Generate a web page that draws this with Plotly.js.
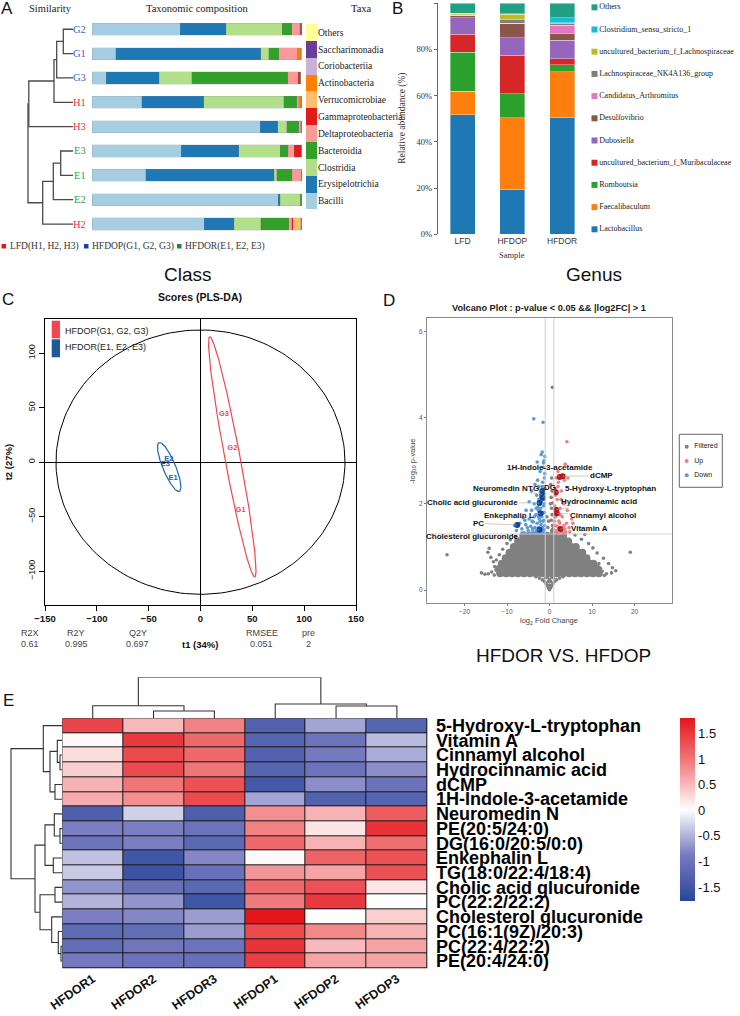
<!DOCTYPE html>
<html><head><meta charset="utf-8">
<script src="https://cdn.plot.ly/plotly-3.0.1.min.js"></script>
<style>html,body{margin:0;padding:0;background:#fff}#fig{width:740px;height:1016px}</style>
</head><body><div id="fig"></div>
<script>
// ================= DATA =================
// ---- Panel A: class-level taxonomic composition (%) ----
const samplesA = ['G2','G1','G3','H1','H3','E3','E1','E2','H2'];
const groupOfA = ['G','G','G','H','H','E','E','E','H'];
const taxaA = ['Bacilli','Erysipelotrichia','Clostridia','Bacteroidia','Deltaproteobacteria','Gammaproteobacteria','Verrucomicrobiae','Actinobacteria','Coriobacteriia','Saccharimonadia','Others'];
const pctBacilli          = [42.1, 11.3,  6.8, 23.8, 80.2, 42.5, 25.6, 88.9, 53.5];
const pctErysipelotrichia = [21.9, 69.2, 25.4, 29.4,  8.4, 27.5, 61.3,  0.9, 14.3];
const pctClostridia       = [26.8,  3.9, 15.4, 38.4,  4.4, 19.8,  1.3,  9.5, 12.7];
const pctBacteroidia      = [ 4.4,  4.8, 45.9,  6.2,  5.7,  3.8,  7.3,  0.3, 13.3];
const pctDeltaproteo      = [ 4.0,  8.9,  4.9,  0.9,  1.0,  3.0,  4.3,  0.3,  1.4];
const pctGammaproteo      = [ 0.4,  0.1,  0.8,  0.1,  0.3,  3.3,  0.1,  0.1,  0.8];
const pctVerrucomicrobiae = [ 0.1,  0.1,  0.1,  0.1,  0.0,  0.0,  0.0,  0.0,  3.7];
const pctActinobacteria   = [ 0.2,  1.4,  0.3,  1.1,  0.0,  0.1,  0.1,  0.0,  0.3];
const pctCoriobacteriia   = [ 0.05, 0.05, 0.05, 0.0,  0.0,  0.0,  0.0,  0.0,  0.0];
const pctSaccharimonadia  = [ 0.02, 0.02, 0.02, 0.0,  0.0,  0.0,  0.0,  0.0,  0.0];
const pctOthers           = [ 0.03, 0.03, 0.03, 0.0,  0.0,  0.0,  0.0,  0.0,  0.0];
// hierarchical clustering of samples (R-style merge matrix + heights)
const mergeA  = [[-1,-2],[1,-3],[2,-4],[3,-5],[-6,-7],[5,-8],[6,-9],[4,7]];
const heightA = [10, 16.6, 19.3, 44.5, 12.6, 20, 30.6, 45.3];

// ---- Panel B: genus-level relative abundance (%) ----
const groupsB = ['LFD','HFDOP','HFDOR'];
const genusB = ['Lactobacillus','Faecalibaculum','Romboutsia','uncultured_bacterium_f_Muribaculaceae','Dubosiella','Desulfovibrio','Candidatus_Arthromitus','Lachnospiraceae_NK4A136_group','uncultured_bacterium_f_Lachnospiraceae','Clostridium_sensu_stricto_1','Others'];
const abundLFD   = [51.7, 10.3, 16.9,  7.7, 7.2, 0.9, 0.1, 0.3, 0.5, 0.1, 4.3];
const abundHFDOP = [19.2, 31.3, 10.3, 16.8, 7.5, 6.0, 0.2, 1.8, 2.1, 0.2, 4.6];
const abundHFDOR = [50.5, 19.9,  2.9,  2.6, 8.2, 2.9, 3.6, 0.7, 0.3, 2.2, 6.2];

// ---- Panel C: PLS-DA scores ----
const scoreLabels = ['G1','G2','G3','E1','E2','E3'];
const scoreGroup  = ['HFDOP','HFDOP','HFDOP','HFDOR','HFDOR','HFDOR'];
const scoreT1 = [38.7, 30.7, 22.6, -26.5, -30.6, -33.9];
const scoreT2 = [-43.7, 12.8, 44.2, -15.0, 2.9, -2.2];
// confidence ellipses: centre, semi-axis vectors
const ellGroup = ['T2','HFDOP','HFDOR'];
const ellCX = [0, 30.65, -30.2];
const ellCY = [0, 4.85, -4.45];
const ellAX = [139.4, -21.65, -9.2];
const ellAY = [0, 110.15, 22.45];
const ellBX = [0, 7.5, 6.6];
const ellBY = [121.2, 0, 0];
const statNames = ['R2X','R2Y','Q2Y','RMSEE','pre'];
const statValues = ['0.61','0.995','0.697','0.051','2'];

// ---- Panel D: volcano plot ----
const grayCoreY = [1.26, 1.13, 1.00, 0.87, 0.74, 0.61, 0.49, 0.39];
const grayCoreX = [
  [-6.2,-4.8,-3.4,-2,-0.6,0.8,2.2,3.2],
  [-7.4,-5.9,-4.4,-2.9,-1.4,0.1,1.6,3.1,4.4],
  [-8.4,-6.9,-5.4,-3.9,-2.4,-0.9,0.6,2.1,3.6,5.1,6.2],
  [-9.4,-8.1,-6.6,-5.1,-3.6,-2.1,-0.6,0.9,2.4,3.9,5.4,6.9,7.7],
  [-10.3,-9.1,-7.6,-6.1,-4.6,-3.1,-1.6,-0.1,1.4,2.9,4.4,5.9,7.4,8.7],
  [-11.2,-10.1,-8.6,-7.1,-5.6,-4.1,-2.6,-1.1,0.4,1.9,3.4,4.9,6.4,7.9,9.4,10.3],
  [-11.9,-10.8,-9.3,-7.8,-6.3,-4.8,-3.3,-1.8,-0.3,1.2,2.7,4.2,5.7,7.2,8.7,10.2,11.3],
  [-11.6,-10.2,-8.8,-7.4,-6,-4.6,-3.2,-1.8,-0.6,0.6,1.8,3.2,4.6,6,7.4,8.8,10.2,11.6]
];
const graySparseX = [-3.2,-2.4,-1.7,-1.2,-0.8,-0.5,-0.25,0,0.25,0.5,0.8,1.2,1.7,2.4,3.2,-0.3,0.3,0,0,-1,1,-0.6,0.6,
  -24.1,-14.2,-14.5,-13.8,-13.2,-12.9,-13.6,-14.4,-15.2,-11.8,-11,-10,-9.2,-8,-12.5,-16,-13,-12.6,
  19,8.3,11.2,12.7,13.9,14.8,13.4,14.6,10.2,9.2,7.5,6,12,15.6,11.6,12.9,12.4,
  0.5,0.7,0.4,0.6,0.5,0.7,0.4,0.6,0.3,0.5,-0.4,-0.6,0.8,0.7,-0.2,0.2];
const graySparseY = [0.31,0.28,0.24,0.2,0.15,0.1,0.05,0.01,0.05,0.1,0.15,0.2,0.24,0.28,0.31,0.2,0.2,0.12,0.25,0.28,0.28,0.3,0.3,
  0.82,0.97,0.88,0.76,0.66,0.55,0.42,0.38,0.37,0.82,0.95,1.08,1.17,1.25,0.7,0.4,0.35,0.47,
  0.88,1.29,0.86,0.74,0.62,0.52,0.38,0.4,0.98,1.08,1.18,1.28,0.5,0.45,0.62,0.34,0.44,
  1.38,1.5,1.62,1.75,1.9,2.02,2.15,2.3,2.45,2.6,1.45,1.7,1.42,4.7,1.6,2.0];
const downX = [-3.7,-1.5,-1.7,-1.95,-2.9,-1.3,-1.5,-2.2,-1.2,-2.8,-1.6,-3.4,-2.5,-1.1,-4.2,-3.0,-2.1,-1.3,-4.8,-3.6,-1.4,-2.8,-5.5,-4.2,-1.2,-3.2,-2.6,-6.2,-4.8,-1.5,-3.8,-2.9,-7.0,-5.6,-1.1,-4.4,-3.4,-2.5,-6.5,-1.6,-5.0,-7.8,-3.9,-2.2,-1.3,-6.0,-2.9,-4.6,-1.8,-2.2,-1.4,-1.9,-2.6,-8.2,
  -1.2,-1.7,-2.0,-1.3,-2.4,-1.6,-2.1,-1.2,-2.5,-1.7,-1.1,-1.4,-1.1,-3.1,-3.6,-4.1,-5.2,-4.0,-3.1,-5.8,-1.4,-1.9,-2.4,-1.5];
const downY = [3.97,3.89,3.20,3.14,2.97,3.00,2.85,2.75,2.60,2.55,2.50,2.45,2.40,2.35,2.30,2.20,2.15,2.10,2.05,2.00,1.95,1.92,1.85,1.85,1.80,1.75,1.70,1.68,1.65,1.60,1.58,1.55,1.55,1.52,1.50,1.48,1.45,1.45,1.42,1.40,1.38,1.38,1.35,1.34,1.33,1.33,1.32,1.32,1.70,1.60,2.30,2.05,1.85,1.50,
  1.40,1.45,1.52,1.62,1.65,1.78,1.90,2.00,2.10,2.40,2.70,2.95,3.10,1.90,1.70,1.60,1.45,1.42,1.38,1.62,1.80,1.35,1.38,2.20];
const upX = [4.1,3.7,2.0,1.6,3.5,2.1,4.3,1.3,2.8,1.8,3.3,1.2,2.5,4.2,1.5,3.0,5.2,2.2,4.0,1.3,3.4,2.1,4.6,1.6,2.8,3.8,1.2,2.3,5.5,1.9,2.7,1.4,3.0,1.1,1.8,2.5,3.6,1.5,2.0,1.2,4.8,2.4];
const upY = [3.44,2.92,2.75,2.60,2.55,2.50,2.60,2.35,2.30,2.10,2.00,1.95,1.90,1.85,1.70,1.70,1.65,1.60,1.55,1.50,1.50,1.45,1.45,1.38,1.38,1.35,1.33,1.32,1.55,1.80,2.10,2.20,1.35,1.60,1.48,1.75,1.42,1.90,2.40,1.70,1.35,1.55];
const labelNames = ['1H-Indole-3-acetamide','dCMP','5-Hydroxy-L-tryptophan','Hydrocinnamic acid','Cinnamyl alcohol','Vitamin A','Neuromedin N','TG','DG','Cholic acid glucuronide','Enkephalin L','PC','Cholesterol glucuronide'];
const labelDir = ['up','up','up','up','up','up','down','down','down','down','down','down','down'];
const labelFC = [2.4, 3.1, 1.5, 1.6, 1.7, 2.6, -1.7, -1.7, -1.6, -2.35, -2.1, -7.6, -2.35];
const labelP  = [2.62, 2.64, 2.27, 1.86, 1.78, 1.42, 2.22, 2.30, 2.14, 2.02, 1.78, 1.51, 1.40];
const volcLegend = ['Filtered','Up','Down'];

// ---- Panel E: heatmap (row z-scores) ----
const samplesE = ['HFDOR1','HFDOR2','HFDOR3','HFDOP1','HFDOP2','HFDOP3'];
const metabolites = ['5-Hydroxy-L-tryptophan','Vitamin A','Cinnamyl alcohol','Hydrocinnamic acid','dCMP','1H-Indole-3-acetamide','Neuromedin N','PE(20:5/24:0)','DG(16:0/20:5/0:0)','Enkephalin L','TG(18:0/22:4/18:4)','Cholic acid glucuronide','PC(22:2/22:2)','Cholesterol glucuronide','PC(16:1(9Z)/20:3)','PC(22:4/22:2)','PE(20:4/24:0)'];
const zscores = [
  [ 1.40,  0.50,  0.90, -1.30, -0.60, -1.25],
  [ 0.05,  1.50,  1.10, -1.25, -1.00, -0.45],
  [ 0.25,  1.35,  1.10, -1.30, -0.90, -0.55],
  [ 0.35,  1.35,  1.00, -1.25, -1.00, -0.75],
  [ 0.55,  1.00,  1.30, -1.45, -0.75, -1.00],
  [ 0.60,  0.80,  1.35, -0.60, -1.30, -1.25],
  [-1.35, -0.30, -1.35,  0.80,  0.55,  1.20],
  [-0.85, -0.85, -1.00,  0.90,  0.20,  1.55],
  [-1.00, -0.85, -1.20,  1.10,  0.55,  1.05],
  [-0.40, -1.50, -0.80,  0.05,  1.15,  1.30],
  [-0.35, -1.55, -1.05,  0.75,  0.65,  1.30],
  [-0.70, -1.05, -1.20,  1.10,  1.30,  0.20],
  [-0.50, -0.70, -1.50,  0.95,  1.50,  0.00],
  [-0.85, -0.80, -0.65,  1.80,  0.00,  0.35],
  [-1.15, -1.10, -0.65,  1.35,  0.85,  0.55],
  [-1.10, -0.95, -1.00,  1.55,  0.50,  0.65],
  [-0.90, -1.00, -1.05,  1.45,  0.65,  0.65]
];
const rowMerge  = [[-3,-4],[-2,1],[-5,-6],[2,3],[-1,4],[-8,-9],[-7,6],[-10,-11],[7,8],[-12,-13],[-16,-17],[-15,11],[-14,12],[10,13],[9,14],[5,15]];
const rowHeight = [2.3,5,7.3,12.3,19,2.3,8,9,17.3,7.3,1.3,4,10.6,22.3,27.3,51.3];
const colMerge  = [[-2,-3],[-1,1],[-5,-6],[-4,3],[2,4]];
const colHeight = [7.3,12.6,12.3,14.3,41];

// ================= STYLE / LAYOUT HELPERS =================
const W = 740, H = 1016;
const dX = (a,b) => [a/W, b/W];
const dY = (t,b) => [1-b/H, 1-t/H];
const px = p => p/W, py = p => 1-p/H;
const SERIF = '"Liberation Serif", "Times New Roman", serif';
const SANS = '"Liberation Sans", Arial, sans-serif';
const taxaColors = ['#a6cee3','#1f78b4','#b2df8a','#33a02c','#fb9a99','#e31a1c','#fdbf6f','#ff7f00','#cab2d6','#6a3d9a','#ffff99'];
const genusColors = ['#1f77b4','#ff7f0e','#2ca02c','#d62728','#9467bd','#8c564b','#e377c2','#7f7f7f','#bcbd22','#17becf','#21a085'];
const groupColorA = {G:'#3a62c8', H:'#ee2c38', E:'#2ea24e'};
const plsColor = {HFDOP:'#ef474d', HFDOR:'#2165a8', T2:'#000000'};
const volcColors = ['#808080','#f08080','#5b9bd5'];

function hid(domain, range, extra){
  return Object.assign({domain, range, showgrid:false, zeroline:false, showline:false, ticks:'', showticklabels:false, fixedrange:true}, extra||{});
}
function dendro(merges, heights){
  const nPos=[], nH=[], pos=[], h=[];
  const get = id => id<0 ? [-id-1, 0] : [nPos[id-1], nH[id-1]];
  merges.forEach((m,k)=>{
    const a=get(m[0]), b=get(m[1]), hh=heights[k];
    pos.push(a[0],a[0],b[0],b[0],null); h.push(a[1],hh,hh,b[1],null);
    nPos.push((a[0]+b[0])/2); nH.push(hh);
  });
  return {pos,h};
}
function txt(x,y,text,font,extra){
  return Object.assign({xref:'paper',yref:'paper',x:px(x),y:py(y),text,showarrow:false,font,xanchor:'center',yanchor:'middle'},extra||{});
}

const traces = [];
const base = {hoverinfo:'skip', showlegend:false};

// ---- A: stacked bars ----
const pctA = [pctBacilli,pctErysipelotrichia,pctClostridia,pctBacteroidia,pctDeltaproteo,pctGammaproteo,pctVerrucomicrobiae,pctActinobacteria,pctCoriobacteriia,pctSaccharimonadia,pctOthers];
pctA.forEach((vals,k)=>traces.push(Object.assign({type:'bar',orientation:'h',x:vals,y:samplesA.map((s,i)=>i),width:0.5,
  marker:{color:taxaColors[k],line:{color:'rgba(130,130,130,0.45)',width:0.4}},xaxis:'x',yaxis:'y'},base)));
const dA = dendro(mergeA, heightA);
traces.push(Object.assign({type:'scatter',mode:'lines',x:dA.h,y:dA.pos,line:{color:'#4a4a4a',width:1.3},xaxis:'x2',yaxis:'y2'},base));
traces.push(Object.assign({type:'bar',orientation:'h',x:taxaA.map(()=>1),y:taxaA,width:1,marker:{color:taxaColors,line:{width:0}},xaxis:'x3',yaxis:'y3'},base));

// ---- B: stacked bars ----
const abundByGroup = [abundLFD, abundHFDOP, abundHFDOR];
genusB.forEach((g,k)=>traces.push(Object.assign({type:'bar',x:groupsB,y:abundByGroup.map(a=>a[k]),width:0.5,
  marker:{color:genusColors[k],line:{color:'rgba(255,255,255,0.7)',width:0.5}},xaxis:'x4',yaxis:'y4'},base)));
traces.push(Object.assign({type:'scatter',mode:'markers+text',x:genusB.map(()=>6.5),y:genusB.map((g,i)=>i),text:genusB,textposition:'middle right',
  marker:{symbol:'square',size:6,color:genusColors},textfont:{family:SERIF,size:8,color:'#222'},cliponaxis:false,xaxis:'x5',yaxis:'y5'},base));

// ---- C: PLS-DA ----
ellGroup.forEach((g,k)=>{
  const xs=[], ys=[];
  for(let i=0;i<=180;i++){ const t=2*Math.PI*i/180;
    xs.push(ellCX[k]+ellAX[k]*Math.cos(t)+ellBX[k]*Math.sin(t));
    ys.push(ellCY[k]+ellAY[k]*Math.cos(t)+ellBY[k]*Math.sin(t)); }
  traces.push(Object.assign({type:'scatter',mode:'lines',x:xs,y:ys,line:{color:plsColor[g],width:g==='T2'?1:1.2},xaxis:'x6',yaxis:'y6'},base));
});
traces.push(Object.assign({type:'scatter',mode:'text',x:scoreT1,y:scoreT2,text:scoreLabels,
  textfont:{family:SANS,size:7.5,color:scoreGroup.map(g=>plsColor[g]),weight:'bold'},xaxis:'x6',yaxis:'y6'},base));

// ---- D: volcano ----
const coreX=[], coreY=[];
grayCoreX.forEach((row,i)=>row.forEach(x=>{coreX.push(x); coreY.push(grayCoreY[i]);}));
traces.push(Object.assign({type:'scatter',mode:'markers',x:coreX,y:coreY,marker:{size:8,color:volcColors[0]},xaxis:'x7',yaxis:'y7'},base));
traces.push(Object.assign({type:'scatter',mode:'markers',x:graySparseX,y:graySparseY,marker:{size:3.6,color:volcColors[0]},xaxis:'x7',yaxis:'y7'},base));
traces.push(Object.assign({type:'scatter',mode:'markers',x:downX,y:downY,marker:{size:3.6,color:volcColors[2]},xaxis:'x7',yaxis:'y7'},base));
traces.push(Object.assign({type:'scatter',mode:'markers',x:upX,y:upY,marker:{size:3.6,color:volcColors[1]},xaxis:'x7',yaxis:'y7'},base));
traces.push(Object.assign({type:'scatter',mode:'markers',x:labelFC,y:labelP,marker:{size:6,color:labelDir.map(d=>d==='up'?'#b01820':'#0a4596')},xaxis:'x7',yaxis:'y7'},base));
traces.push(Object.assign({type:'scatter',mode:'markers',x:volcLegend.map(()=>7.4),y:volcLegend.map((l,i)=>i),marker:{size:4,color:volcColors},xaxis:'x8',yaxis:'y8'},base));
traces.push(Object.assign({type:'scatter',mode:'text',x:volcLegend.map(()=>15),y:volcLegend.map((l,i)=>i),text:volcLegend,textposition:'middle right',
  textfont:{family:SANS,size:7,color:'#222'},cliponaxis:false,xaxis:'x8',yaxis:'y8'},base));

// ---- E: heatmap + dendrograms ----
traces.push({type:'heatmap',z:zscores,x:samplesE.map((s,i)=>i),y:metabolites.map((m,i)=>i),xgap:1,ygap:1,zmin:-1.78,zmax:1.8,
  colorscale:[[0,'rgb(40,70,155)'],[0.25,'rgb(118,122,190)'],[0.5,'rgb(255,255,255)'],[0.75,'rgb(241,128,130)'],[1,'rgb(228,22,28)']],
  colorbar:{x:px(680),xanchor:'left',xpad:0,y:py(718.3),yanchor:'top',ypad:0,len:183.4,lenmode:'pixels',thickness:15,thicknessmode:'pixels',
    outlinewidth:0,ticks:'',tickvals:[-1.5,-1,-0.5,0,0.5,1,1.5],ticktext:['-1.5','-1','-0.5','0','0.5','1','1.5'],tickfont:{family:SANS,size:13,color:'#111'}},
  xaxis:'x9',yaxis:'y9',hoverinfo:'skip'});
const dCol = dendro(colMerge, colHeight);
traces.push(Object.assign({type:'scatter',mode:'lines',x:dCol.pos,y:dCol.h,line:{color:'#333',width:1.1},xaxis:'x10',yaxis:'y10'},base));
const dRow = dendro(rowMerge, rowHeight);
traces.push(Object.assign({type:'scatter',mode:'lines',x:dRow.h,y:dRow.pos,line:{color:'#333',width:1.1},xaxis:'x11',yaxis:'y11'},base));

// ================= LAYOUT =================
const pctTicks=[0,20,40,60,80,100];
const layout = {
  width:W, height:H, margin:{l:0,r:0,t:0,b:0,pad:0}, paper_bgcolor:'#fff', plot_bgcolor:'rgba(0,0,0,0)',
  barmode:'stack', showlegend:false, font:{family:SANS,color:'#222'},
  xaxis: hid(dX(92,302),[0,100.2],{anchor:'y'}),
  yaxis: hid(dY(17.1,236.2),[8.5,-0.5],{anchor:'x'}),
  xaxis2: hid(dX(0,73.3),[73.3,0],{anchor:'y2'}),
  yaxis2: hid(dY(17.1,236.2),[8.5,-0.5],{anchor:'x2'}),
  xaxis3: hid(dX(306,317),[0,1],{anchor:'y3'}),
  yaxis3: hid(dY(24,209.4),[-0.5,10.5],{anchor:'x3',type:'category',categoryorder:'array',categoryarray:taxaA,side:'right',showticklabels:true,
    tickfont:{family:SERIF,size:9.5,color:'#222'}}),
  xaxis4: {domain:dX(437.7,587),range:[-0.5,2.5],type:'category',anchor:'y4',showgrid:false,zeroline:false,showline:false,ticks:'',
    tickfont:{family:SANS,size:8.5,color:'#333'},fixedrange:true},
  yaxis4: {domain:dY(3.3,234.3),range:[0,100],anchor:'x4',showgrid:false,zeroline:false,showline:true,linecolor:'#666',linewidth:1,
    ticks:'outside',ticklen:3,tickcolor:'#666',tickvals:pctTicks,ticktext:pctTicks.map(v=>v+'%'),tickfont:{family:SERIF,size:8.5,color:'#333'},fixedrange:true},
  xaxis5: hid(dX(588,740),[0,152],{anchor:'y5'}),
  yaxis5: hid(dY(0,240),[-0.482,10.33],{anchor:'x5'}),
  xaxis6: {domain:dX(45,356),range:[-150,150],anchor:'y6',showgrid:false,zeroline:true,zerolinecolor:'#000',zerolinewidth:1,showline:true,mirror:true,
    linecolor:'#000',linewidth:1,ticks:'outside',ticklen:5,tickcolor:'#000',tickvals:[-150,-100,-50,0,50,100,150],
    tickfont:{family:SANS,size:9.5,color:'#111',weight:'bold'},fixedrange:true},
  yaxis6: {domain:dY(319.3,605),range:[-131,131],anchor:'x6',showgrid:false,zeroline:true,zerolinecolor:'#000',zerolinewidth:1,showline:true,mirror:true,
    linecolor:'#000',linewidth:1,ticks:'outside',ticklen:5,tickcolor:'#000',tickvals:[-100,-50,0,50,100],tickangle:-90,
    tickfont:{family:SANS,size:9,color:'#111'},fixedrange:true},
  xaxis7: {domain:dX(427.3,671.7),range:[-28.75,28.75],anchor:'y7',showgrid:false,zeroline:false,showline:true,mirror:true,linecolor:'#8a8a8a',linewidth:1,
    ticks:'outside',ticklen:2.5,tickcolor:'#777',tickvals:[-20,-10,0,10,20],tickfont:{family:SANS,size:6.5,color:'#555'},fixedrange:true},
  yaxis7: {domain:dY(318.3,602.7),range:[-0.29,6.3],anchor:'x7',showgrid:false,zeroline:false,showline:true,mirror:true,linecolor:'#8a8a8a',linewidth:1,
    ticks:'outside',ticklen:2.5,tickcolor:'#777',tickvals:[0,2,4,6],tickfont:{family:SANS,size:6.5,color:'#555'},fixedrange:true},
  xaxis8: hid(dX(679.3,722.3),[0,43],{anchor:'y8'}),
  yaxis8: hid(dY(434.3,487.3),[2.84,-0.867],{anchor:'x8'}),
  xaxis9: {domain:dX(62.3,427.3),range:[-0.5,5.5],anchor:'y9',showgrid:false,zeroline:false,showline:false,ticks:'',
    tickvals:samplesE.map((s,i)=>i),ticktext:samplesE,tickangle:-35,tickfont:{family:SANS,size:12.5,color:'#111',weight:'bold'},fixedrange:true},
  yaxis9: {domain:dY(718.3,968.3),range:[16.5,-0.5],anchor:'x9',side:'right',showgrid:false,zeroline:false,showline:false,ticks:'outside',ticklen:4,
    tickcolor:'rgba(0,0,0,0)',tickvals:metabolites.map((m,i)=>i),ticktext:metabolites,tickfont:{family:SANS,size:18,color:'#000',weight:'bold'},fixedrange:true},
  xaxis10: hid(dX(62.3,427.3),[-0.5,5.5],{anchor:'y10'}),
  yaxis10: hid(dY(677.3,718.3),[0,41],{anchor:'x10'}),
  xaxis11: hid(dX(0,62.3),[62.3,0],{anchor:'y11'}),
  yaxis11: hid(dY(718.3,968.3),[16.5,-0.5],{anchor:'x11'}),
  shapes:[], annotations:[]
};

const S = layout.shapes, A = layout.annotations;
const F = (family,size,color,weight)=>({family,size,color:color||'#111',weight:weight||'normal'});
// ---- A texts ----
A.push(txt(7,9,'A',F(SANS,17,'#111')));
A.push(txt(50.8,9,'Similarity',F(SERIF,10.5,'#222')));
A.push(txt(197,9,'Taxonomic composition',F(SERIF,10.5,'#222')));
A.push(txt(361,9,'Taxa',F(SERIF,10.5,'#222')));
samplesA.forEach((s,i)=>A.push({xref:'paper',yref:'y',x:px(88),y:i,text:s,showarrow:false,xanchor:'right',yanchor:'middle',
  font:F(SERIF,10.5,groupColorA[groupOfA[i]])}));
const legA = [['LFD(H1, H2, H3)','#e8141c',1.5],['HFDOP(G1, G2, G3)','#1f3f9f',84],['HFDOR(E1, E2, E3)','#1a8a3a',177]];
legA.forEach(l=>{
  S.push({type:'rect',xref:'paper',yref:'paper',x0:px(l[2]),x1:px(l[2]+4.5),y0:py(248.5),y1:py(244),fillcolor:l[1],line:{width:0}});
  A.push(txt(l[2]+6,246,l[0],F(SERIF,9.5,'#333'),{xanchor:'left'}));
});
// ---- B texts ----
A.push(txt(397.5,9,'B',F(SANS,17,'#111')));
A.push(txt(512,255,'Sample',F(SERIF,8.5,'#333')));
A.push(txt(403,118.8,'Relative abundance (%)',F(SERIF,9.5,'#333'),{textangle:-90}));
// ---- section titles ----
A.push(txt(188,275,'Class',F(SANS,19,'#111')));
A.push(txt(594,275,'Genus',F(SANS,19,'#111')));
A.push(txt(563,655.7,'HFDOR VS. HFDOP',F(SANS,19,'#111')));
// ---- C texts ----
A.push(txt(7.5,300,'C',F(SANS,17,'#111')));
A.push(txt(200,296.7,'Scores (PLS-DA)',F(SANS,10.5,'#111','bold')));
S.push({type:'rect',xref:'paper',yref:'paper',x0:px(51.7),x1:px(60),y0:py(338.3),y1:py(320.7),fillcolor:plsColor.HFDOP,line:{width:0}});
S.push({type:'rect',xref:'paper',yref:'paper',x0:px(51.7),x1:px(60),y0:py(357.3),y1:py(339.3),fillcolor:'#1c5b9a',line:{width:0}});
A.push(txt(62.7,331,'HFDOP(G1, G2, G3)',F(SANS,9,'#222'),{xanchor:'left'}));
A.push(txt(62.7,346.7,'HFDOR(E1, E2, E3)',F(SANS,9,'#222'),{xanchor:'left'}));
const statX = [30,76,137.7,261.7,308.3];
statNames.forEach((n,i)=>{A.push(txt(statX[i],633.3,n,F(SANS,9,'#444'))); A.push(txt(statX[i],644.3,statValues[i],F(SANS,9,'#444')));});
A.push(txt(200,644.3,'t1 (34%)',F(SANS,9.5,'#111','bold')));
A.push(txt(8.3,462,'t2 (27%)',F(SANS,9.5,'#111','bold'),{textangle:-90}));
// ---- D texts ----
A.push(txt(389,300.8,'D',F(SANS,17,'#111')));
A.push(txt(549.3,308.3,'Volcano Plot : p-value &lt; 0.05 &amp;&amp; |log2FC| &gt; 1',F(SANS,9.2,'#1a1a1a','bold')));
A.push(txt(549.3,620.7,'log<sub>2</sub> Fold Change',F(SANS,7.5,'#444')));
A.push(txt(412.7,461,'-log<sub>10</sub> p-value',F(SANS,7.5,'#444'),{textangle:-90}));
const labelTX = [0.16, 12.2, 14.4, 11.7, 12.6, 9.3, -11.6, -3.8, 0.2, -18.2, -9.6, -16.8, -18.2];
const labelTY = [2.84, 2.65, 2.35, 2.05, 1.74, 1.44, 2.35, 2.35, 2.39, 2.04, 1.73, 1.55, 1.24];
labelNames.forEach((n,i)=>A.push({xref:'x7',yref:'y7',x:labelFC[i],y:labelP[i],axref:'x7',ayref:'y7',ax:labelTX[i],ay:labelTY[i],
  text:n,showarrow:true,arrowhead:0,arrowwidth:0.6,arrowcolor:'#aaaaaa',standoff:0,font:F(SANS,8,'#111','bold')}));
const fcCut = 1, pCut = -Math.log10(0.05);
S.push({type:'line',xref:'x7',yref:'y7 domain',x0:-fcCut,x1:-fcCut,y0:0,y1:1,line:{color:'rgba(205,205,205,0.9)',width:1.1},layer:'above'});
S.push({type:'line',xref:'x7',yref:'y7 domain',x0:fcCut,x1:fcCut,y0:0,y1:1,line:{color:'rgba(205,205,205,0.9)',width:1.1},layer:'above'});
S.push({type:'line',xref:'x7 domain',yref:'y7',x0:0,x1:1,y0:pCut,y1:pCut,line:{color:'rgba(205,205,205,0.9)',width:1.1},layer:'above'});
S.push({type:'rect',xref:'paper',yref:'paper',x0:px(679.3),x1:px(722.3),y0:py(487.3),y1:py(434.3),line:{color:'#666',width:1},fillcolor:'rgba(0,0,0,0)'});
// ---- E ----
A.push(txt(8,700,'E',F(SANS,17,'#111')));
S.push({type:'rect',xref:'x9',yref:'y9',x0:-0.5,x1:5.5,y0:-0.5,y1:16.5,fillcolor:'#151515',line:{color:'#151515',width:1},layer:'below'});

Plotly.newPlot('fig', traces, layout, {displayModeBar:false, staticPlot:true});
</script></body></html>
